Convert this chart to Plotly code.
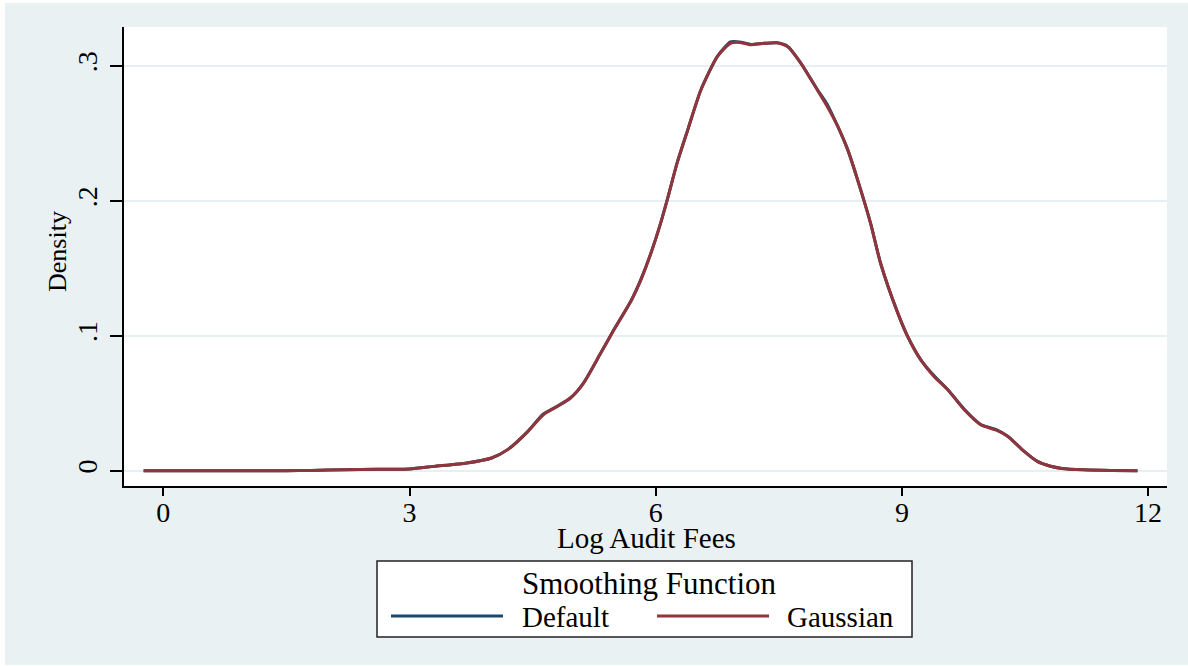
import plotly.graph_objects as go

# Kernel density estimates of log audit fees, two smoothing kernels
log_fees = [-0.24, 0.5, 1.0, 1.5, 1.8, 2.2, 2.6, 3.0, 3.3, 3.7, 4.0, 4.2, 4.44, 4.63,
            4.8, 4.96, 5.12, 5.33, 5.49, 5.7, 5.82, 5.94, 6.06, 6.14, 6.26, 6.39, 6.55,
            6.75, 6.91, 7.02, 7.16, 7.32, 7.48, 7.61, 7.77, 7.97, 8.09, 8.22, 8.34, 8.46,
            8.62, 8.74, 8.95, 9.07, 9.23, 9.39, 9.56, 9.76, 9.96, 10.15, 10.29, 10.49,
            10.65, 10.8, 10.95, 11.22, 11.55, 11.87]

density_default = [0.0, 0.0, 0.0, 0.0, 0.0002, 0.0007, 0.0010, 0.0013, 0.0032, 0.0057,
                   0.0094, 0.0158, 0.029, 0.0420, 0.0478, 0.0539, 0.065, 0.0872, 0.1044,
                   0.126, 0.1420, 0.161, 0.1835, 0.2007, 0.228, 0.2526, 0.2822, 0.307,
                   0.3178, 0.3178, 0.3160, 0.3168, 0.3172, 0.3145, 0.302, 0.2825, 0.2715,
                   0.255, 0.2378, 0.2156, 0.183, 0.1538, 0.1168, 0.0995, 0.0822, 0.0705,
                   0.060, 0.0455, 0.0343, 0.0305, 0.0256, 0.0143, 0.0069, 0.0035, 0.0017,
                   0.0007, 0.0002, 0.0]

density_gaussian = [0.0, 0.0, 0.0, 0.0, 0.0002, 0.0007, 0.0010, 0.0013, 0.0032, 0.0057,
                    0.0094, 0.0158, 0.029, 0.0415, 0.0476, 0.0539, 0.065, 0.0872, 0.1044,
                    0.126, 0.1415, 0.161, 0.1835, 0.2007, 0.228, 0.2526, 0.2822, 0.307,
                    0.3168, 0.3175, 0.3158, 0.3168, 0.3172, 0.3143, 0.302, 0.2822, 0.270,
                    0.255, 0.2378, 0.2156, 0.183, 0.1538, 0.1168, 0.0995, 0.0822, 0.0699,
                    0.060, 0.0452, 0.0341, 0.0300, 0.0254, 0.0143, 0.0069, 0.0035, 0.0017,
                    0.0007, 0.0002, 0.0]

x_ticks = [0, 3, 6, 9, 12]
y_ticks = [0, 0.1, 0.2, 0.3]
y_tick_labels = ["0", ".1", ".2", ".3"]

series_names = ["Default", "Gaussian"]
series_colors = ["#1A476F", "#90353B"]

W, H = 1188, 666
ML, MR, MT, MB = 124, 21, 27, 180
PW, PH = W - ML - MR, H - MT - MB
FONT = "Liberation Serif"
BG = "#EAF1F3"


def px(xp):
    return (xp - ML) / PW


def py(yp):
    return (H - MB - yp) / PH


fig = go.Figure()
for name, ys, color in zip(series_names, [density_default, density_gaussian], series_colors):
    fig.add_trace(go.Scatter(
        x=log_fees, y=ys, mode="lines", name=name, showlegend=False,
        line=dict(color=color, width=3, shape="spline", smoothing=0.6),
    ))

shapes = [
    # thin white margin around the graph region
    dict(type="rect", xref="paper", yref="paper", x0=px(0), x1=px(W), y0=py(0), y1=py(3),
         fillcolor="white", line=dict(width=0)),
    dict(type="rect", xref="paper", yref="paper", x0=px(0), x1=px(5), y0=py(0), y1=py(H),
         fillcolor="white", line=dict(width=0)),
    dict(type="rect", xref="paper", yref="paper", x0=px(0), x1=px(W), y0=py(665), y1=py(H),
         fillcolor="white", line=dict(width=0)),
    # legend box
    dict(type="rect", xref="paper", yref="paper", x0=px(377), x1=px(912), y0=py(637), y1=py(561),
         fillcolor="white", line=dict(color="#222222", width=1.5)),
]
legend_lines = [(391, 503), (657, 769)]
for (a, b), color in zip(legend_lines, series_colors):
    shapes.append(dict(type="line", xref="paper", yref="paper", x0=px(a), x1=px(b),
                       y0=py(616), y1=py(616), line=dict(color=color, width=3)))

annotations = [
    dict(text="Log Audit Fees", x=px(646), y=py(538), xanchor="center", yanchor="middle",
         font=dict(size=29)),
    dict(text="Density", x=px(57), y=py(252), xanchor="center", yanchor="middle",
         textangle=-90, font=dict(size=26)),
    dict(text="Smoothing Function", x=px(649), y=py(583), xanchor="center", yanchor="middle",
         font=dict(size=31)),
    dict(text="Default", x=px(520), y=py(617), xanchor="left", yanchor="middle",
         font=dict(size=29)),
    dict(text="Gaussian", x=px(785), y=py(617), xanchor="left", yanchor="middle",
         font=dict(size=29)),
]
for a in annotations:
    a.update(xref="paper", yref="paper", showarrow=False)
    a["font"].update(family=FONT, color="black")

fig.update_layout(
    width=W, height=H,
    margin=dict(l=ML, r=MR, t=MT, b=MB, pad=0),
    paper_bgcolor=BG, plot_bgcolor="white",
    font=dict(family=FONT, color="black"),
    shapes=shapes, annotations=annotations,
    xaxis=dict(
        range=[-0.479, 12.23], tickvals=x_ticks, ticktext=[str(v) for v in x_ticks],
        showgrid=False, zeroline=False, showline=True, linecolor="black", linewidth=1.5,
        ticks="outside", ticklen=8, tickwidth=1.5, tickcolor="black",
        tickfont=dict(size=28, family=FONT), ticklabelstandoff=-7,
    ),
    yaxis=dict(
        range=[-0.01134, 0.3289], tickvals=y_ticks, ticktext=y_tick_labels,
        showgrid=True, gridcolor="#E6EFF1", gridwidth=1.5, zeroline=False,
        showline=True, linecolor="black", linewidth=1.5,
        ticks="outside", ticklen=12, tickwidth=1.5, tickcolor="black", tickangle=-90,
        tickfont=dict(size=28, family=FONT), ticklabelstandoff=2,
    ),
)

fig.write_html("out.html")
